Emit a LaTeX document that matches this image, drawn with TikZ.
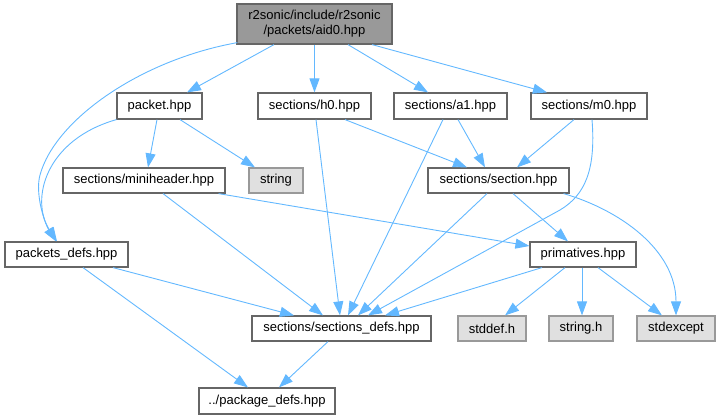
\documentclass[tikz,border=0pt]{standalone}
\usepackage{fontspec}
\setmainfont{Liberation Sans}
\usetikzlibrary{arrows.meta,calc}
\definecolor{edgeblue}{HTML}{63B8FF}
\definecolor{boxborder}{HTML}{666666}
\definecolor{extborder}{HTML}{999999}
\definecolor{extfill}{HTML}{E0E0E0}
\definecolor{rootfill}{HTML}{999999}
\begin{document}
\begin{tikzpicture}[x=1pt,y=-1pt,
  box/.style={draw=boxborder, line width=1.2pt, fill=white, inner sep=0pt,
    minimum height=25pt, font=\fontsize{13}{15}\selectfont, text=black},
  ext/.style={box, draw=extborder, fill=extfill},
  rootbox/.style={box, fill=rootfill, align=center},
  link/.style={draw=edgeblue, line width=0.9pt, -{Triangle[length=14pt,width=10pt]}}]
\useasboundingbox (0,0) rectangle (720,420);
% nodes
\node[rootbox, minimum width=155pt, minimum height=40pt] (root) at (314.5,24) {r2sonic/include/r2sonic\\/packets/aid0.hpp};
\node[box, minimum width=85pt, minimum height=26pt] (packet) at (159.5,106) {packet.hpp};
\node[box, minimum width=113pt, minimum height=26pt] (h0) at (314.5,106) {sections/h0.hpp};
\node[box, minimum width=113pt, minimum height=26pt] (a1) at (450.5,106) {sections/a1.hpp};
\node[box, minimum width=116pt, minimum height=26pt] (m0) at (589,106) {sections/m0.hpp};
\node[box, minimum width=162pt] (mini) at (144,180.5) {sections/miniheader.hpp};
\node[ext, minimum width=54pt] (string) at (276,180.5) {string};
\node[box, minimum width=141pt] (section) at (498.5,180.5) {sections/section.hpp};
\node[box, minimum width=123pt] (pdefs) at (66.5,254.5) {packets\_defs.hpp};
\node[box, minimum width=106pt] (prim) at (583,254.5) {primatives.hpp};
\node[box, minimum width=179pt] (sdefs) at (341.5,328.5) {sections/sections\_defs.hpp};
\node[ext, minimum width=68pt] (stddef) at (492,328.5) {stddef.h};
\node[ext, minimum width=64pt] (stringh) at (581,328.5) {string.h};
\node[ext, minimum width=78pt] (stdexcept) at (676,328.5) {stdexcept};
\node[box, minimum width=136pt, minimum height=26pt] (pkgdefs) at (267,401) {../package\_defs.hpp};
% edges
\draw[link] ([xshift=-40.5pt]root.south) -- ([xshift=27.5pt]packet.north);
\draw[link] (root.south) -- (h0.north);
\draw[link] ([xshift=33.5pt]root.south) -- ([xshift=-22.5pt]a1.north);
\draw[link] ([xshift=57.5pt]root.south) -- ([xshift=-42pt]m0.north);
\draw[link] ([xshift=1pt,yshift=2pt]root.south west) .. controls (140,60) and (55,120) .. (40,175)
  .. controls (35,193) and (44,222) .. ([xshift=-10.5pt]pdefs.north);
\draw[link] (packet.south west) .. controls (45,140) and (30,200) .. ([xshift=-9.5pt]pdefs.north);
\draw[link] ([xshift=-2.5pt]packet.south) -- ([xshift=4pt]mini.north);
\draw[link] ([xshift=20.5pt]packet.south) -- ([xshift=-21pt]string.north);
\draw[link] ([xshift=30.5pt]h0.south) -- ([xshift=-31.5pt]section.north);
\draw[link] ([xshift=1.5pt]h0.south) -- ([xshift=-1.5pt]sdefs.north);
\draw[link] ([xshift=7.5pt]a1.south) -- ([xshift=-13.5pt]section.north);
\draw[link] ([xshift=-7.5pt]a1.south) -- ([xshift=6.5pt]sdefs.north);
\draw[link] ([xshift=-15pt]m0.south) -- ([xshift=18.5pt]section.north);
\draw[link] ([xshift=3pt]m0.south) .. controls (596,170) and (585,195) .. (560,210) -- ([xshift=26.5pt]sdefs.north);
\draw[link] ([xshift=19pt]mini.south) -- ([xshift=-18.5pt]sdefs.north);
\draw[link] ([xshift=-7pt]mini.south east) -- ([yshift=8.5pt]prim.west);
\draw[link] ([xshift=-11.5pt]section.south) -- ([xshift=16.5pt]sdefs.north);
\draw[link] ([xshift=14.5pt]section.south) -- ([xshift=-15pt]prim.north);
\draw[link] ([xshift=-6pt]section.south east) .. controls (620,210) and (676,250) .. (stdexcept.north);
\draw[link] ([xshift=46.5pt]pdefs.south) -- ([xshift=-47.5pt]sdefs.north);
\draw[link] ([xshift=16.5pt]pdefs.south) -- ([xshift=-19pt]pkgdefs.north);
\draw[link] ([xshift=-41pt]prim.south) -- ([xshift=43.5pt]sdefs.north);
\draw[link] ([xshift=-18pt]prim.south) -- ([xshift=13pt]stddef.north);
\draw[link] ([xshift=-1pt]prim.south) -- ([xshift=1pt]stringh.north);
\draw[link] ([xshift=15pt]prim.south) -- ([xshift=-14pt]stdexcept.north);
\draw[link] ([xshift=-13.5pt]sdefs.south) -- ([xshift=12pt]pkgdefs.north);
\end{tikzpicture}
\end{document}
